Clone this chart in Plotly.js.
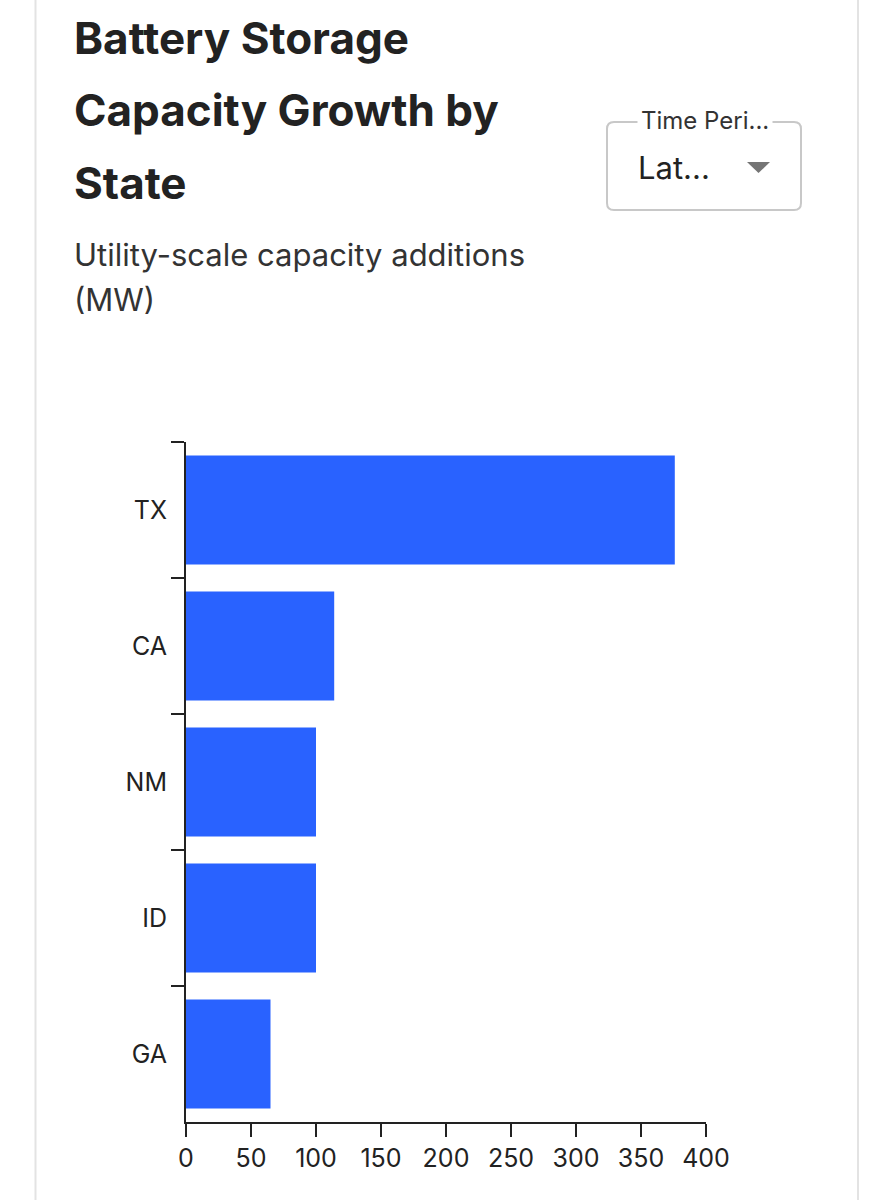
<!DOCTYPE html>
<html>
<head>
<meta charset="utf-8">
<script src="https://cdn.plot.ly/plotly-3.0.1.min.js"></script>
<style>
  html, body { margin: 0; padding: 0; background: #ffffff; }
  #chart { width: 893px; height: 1200px; }
</style>
</head>
<body>
<div id="chart"></div>
<script>
// ---- data ----
const states = ["TX", "CA", "NM", "ID", "GA"];
const capacityMW = [376, 114, 100, 100, 65];
const xTickValues = [0, 50, 100, 150, 200, 250, 300, 350, 400];
const titleLines = ["Battery Storage", "Capacity Growth by", "State"];
const subtitleLines = ["Utility-scale capacity additions", "(MW)"];
const dropdownLabel = "Time Peri...";
const dropdownValue = "Lat...";

// ---- geometry helpers (pixel -> paper) ----
const W = 893, H = 1200;
const PL = 186, PR = 706, PT = 442, PB = 1122;
const fx = px => (px - PL) / (PR - PL);
const fy = py => (PB - py) / (PB - PT);

const FONT = "Inter, 'Noto Sans', 'DejaVu Sans', sans-serif";

const trace = {
  type: "bar",
  orientation: "h",
  y: states,
  x: capacityMW,
  marker: { color: "#2962FF", line: { width: 0 } },
  hoverinfo: "x+y"
};

const annotations = [];
const titleBaselines = [57, 129, 202];
titleLines.forEach((t, i) => {
  annotations.push({
    xref: "paper", yref: "paper",
    x: fx(72), y: fy(titleBaselines[i] + 10),
    xanchor: "left", yanchor: "bottom",
    text: "<b>" + t + "</b>", showarrow: false,
    font: { family: FONT, size: 44, color: "#222222" }
  });
});
const subBaselines = [267, 312];
subtitleLines.forEach((t, i) => {
  annotations.push({
    xref: "paper", yref: "paper",
    x: fx(72), y: fy(subBaselines[i] + 8),
    xanchor: "left", yanchor: "bottom",
    text: t, showarrow: false,
    font: { family: FONT, size: 31, color: "#333333" }
  });
});
// dropdown texts
annotations.push({
  xref: "paper", yref: "paper",
  x: fx(705), y: fy(121),
  xanchor: "center", yanchor: "middle",
  text: dropdownLabel, showarrow: false,
  bgcolor: "#ffffff", borderpad: 3,
  font: { family: FONT, size: 24, color: "#333333" }
});
annotations.push({
  xref: "paper", yref: "paper",
  x: fx(636), y: fy(167),
  xanchor: "left", yanchor: "middle",
  text: dropdownValue, showarrow: false,
  font: { family: FONT, size: 31, color: "#222222" }
});

// rounded rectangle path for dropdown box
function roundRect(x0, y0, x1, y1, r) {
  const X = fx, Y = fy;
  const pts = [
    `M ${X(x0 + r)} ${Y(y0)}`,
    `L ${X(x1 - r)} ${Y(y0)}`,
    `Q ${X(x1)} ${Y(y0)} ${X(x1)} ${Y(y0 + r)}`,
    `L ${X(x1)} ${Y(y1 - r)}`,
    `Q ${X(x1)} ${Y(y1)} ${X(x1 - r)} ${Y(y1)}`,
    `L ${X(x0 + r)} ${Y(y1)}`,
    `Q ${X(x0)} ${Y(y1)} ${X(x0)} ${Y(y1 - r)}`,
    `L ${X(x0)} ${Y(y0 + r)}`,
    `Q ${X(x0)} ${Y(y0)} ${X(x0 + r)} ${Y(y0)}`,
    "Z"
  ];
  return pts.join(" ");
}

const shapes = [
  // card borders
  { type: "line", xref: "paper", yref: "paper", x0: fx(35.5), x1: fx(35.5), y0: fy(0), y1: fy(1200),
    line: { color: "#e3e3e3", width: 2 }, layer: "below" },
  { type: "line", xref: "paper", yref: "paper", x0: fx(858), x1: fx(858), y0: fy(0), y1: fy(1200),
    line: { color: "#e3e3e3", width: 2 }, layer: "below" },
  // dropdown box
  { type: "path", xref: "paper", yref: "paper", path: roundRect(607, 122, 801, 210, 7),
    line: { color: "#c8c8c8", width: 2 }, fillcolor: "rgba(0,0,0,0)", layer: "below" },
  // caret
  { type: "path", xref: "paper", yref: "paper",
    path: `M ${fx(747)} ${fy(162)} L ${fx(770)} ${fy(162)} L ${fx(758.5)} ${fy(173)} Z`,
    line: { width: 0 }, fillcolor: "#757575", layer: "above" }
];

const layout = {
  width: W, height: H,
  margin: { l: PL, r: W - PR, t: PT, b: H - PB, pad: 0 },
  paper_bgcolor: "#ffffff",
  plot_bgcolor: "#ffffff",
  showlegend: false,
  bargap: 0.2,
  font: { family: FONT, color: "#222222" },
  xaxis: {
    range: [0, 400],
    tickvals: xTickValues,
    ticks: "outside", ticklen: 13, tickwidth: 2, tickcolor: "#222222",
    showline: true, linecolor: "#222222", linewidth: 2,
    showgrid: false, zeroline: false,
    tickfont: { family: FONT, size: 25, color: "#222222" },
    fixedrange: true
  },
  yaxis: {
    type: "category",
    categoryorder: "array", categoryarray: states,
    autorange: "reversed",
    tickson: "boundaries",
    ticks: "outside", ticklen: 13, tickwidth: 2, tickcolor: "#222222",
    showline: true, linecolor: "#222222", linewidth: 2,
    showgrid: false, zeroline: false,
    ticklabelstandoff: 12,
    tickfont: { family: FONT, size: 25, color: "#222222" },
    fixedrange: true
  },
  annotations: annotations,
  shapes: shapes
};

Plotly.newPlot("chart", [trace], layout, { displayModeBar: false, staticPlot: true });
</script>
</body>
</html>
